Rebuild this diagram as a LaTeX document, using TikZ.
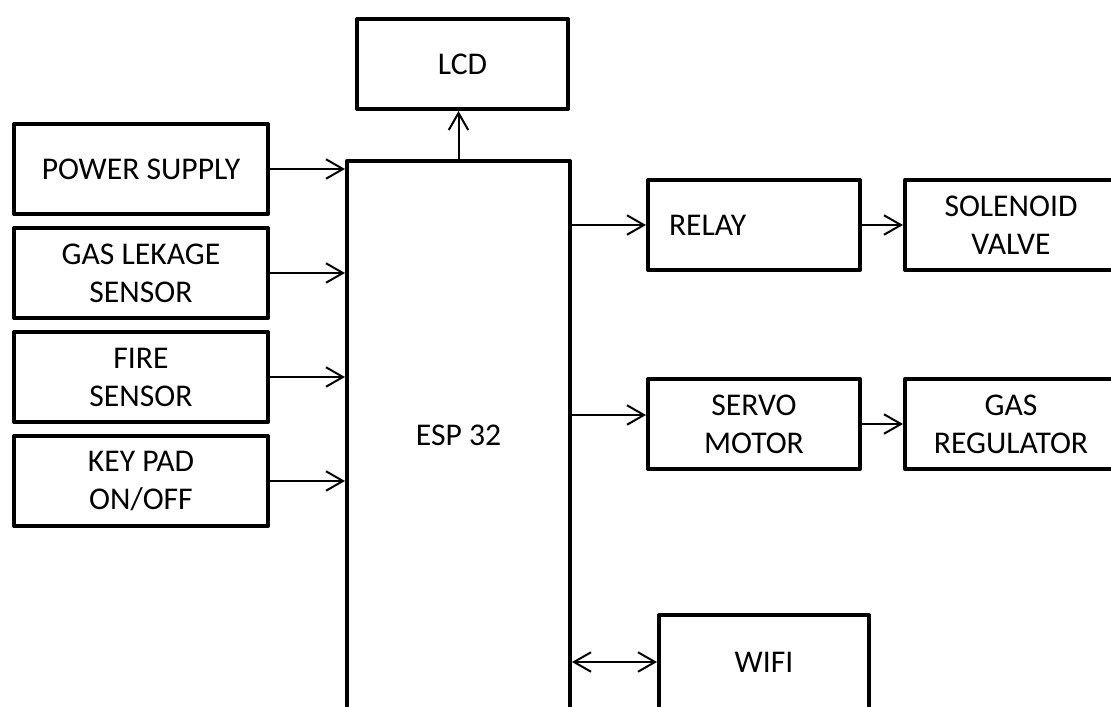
\documentclass[tikz,border=0pt]{standalone}
\usepackage{fontspec}
\setmainfont{Carlito}
\usetikzlibrary{arrows.meta,positioning,calc}

\begin{document}
\begin{tikzpicture}[x=0.2mm,y=-0.2mm,
    >={Straight Barb[length=3.4mm,width=3.9mm]},
    blk/.style={rectangle,draw,line width=0.8mm,line join=round,minimum width=50.8mm,minimum height=18mm,inner sep=2mm,align=center,font=\fontsize{18}{21.6}\selectfont},
    outblk/.style={blk,minimum width=42.4mm},
    link/.style={->,line width=0.4mm},
  ]
  \clip (0,0) rectangle (1111,706);
  % inputs
  \node[blk] (pwr)  at (141,169) {POWER SUPPLY};
  \node[blk] (gas)  at (141,273) {GAS LEKAGE\\SENSOR};
  \node[blk] (fire) at (141,377) {FIRE\\SENSOR};
  \node[blk] (key)  at (141,481) {KEY PAD\\ON/OFF};
  % controller
  \node[blk,minimum width=44.6mm,minimum height=109.6mm] (esp) at (458.5,435) {ESP 32};
  \node[blk,minimum width=42.2mm] (lcd) at (462.5,64) {LCD};
  % outputs
  \node[outblk,align=left,text width=34mm,inner xsep=4.2mm] (relay) at (754,225) {RELAY};
  \node[outblk] (sol)    at (1011,225) {SOLENOID\\VALVE};
  \node[outblk] (servo)  at (754,424) {SERVO\\MOTOR};
  \node[outblk] (reg)    at (1011,424) {GAS\\REGULATOR};
  \node[blk,minimum width=42mm,minimum height=18.8mm] (wifi) at (764,662) {WIFI};
  \coordinate (srvin) at ([yshift=1.8mm]servo.west);
  % links
  \foreach \src in {pwr,gas,fire,key}
    \draw[link] (\src.east) -- (\src.east -| esp.west);
  \draw[link] (esp.north) -- (esp.north |- lcd.south);
  \draw[link] (relay.west -| esp.east) -- (relay.west);
  \draw[link] (srvin -| esp.east) -- (srvin);
  \draw[link] (relay) -- (sol);
  \draw[link] (servo) -- (reg);
  \draw[link,<->] (wifi.west -| esp.east) -- (wifi.west);
\end{tikzpicture}
\end{document}
